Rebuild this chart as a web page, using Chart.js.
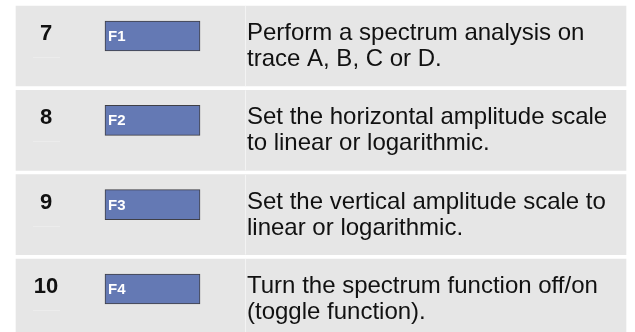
<!DOCTYPE html>
<html>
<head>
<meta charset="utf-8">
<script src="https://cdn.jsdelivr.net/npm/chart.js@4.4.1/dist/chart.umd.min.js"></script>
<style>
  html, body { margin: 0; padding: 0; background: #fff; overflow: hidden; }
  #wrap { width: 635px; height: 332px; }
</style>
</head>
<body>
<div id="wrap"><canvas id="my-chart" width="635" height="332"></canvas></div>
<script>
// table content
var steps = ['7', '8', '9', '10'];
var keys = ['F1', 'F2', 'F3', 'F4'];
var lines1 = [
  'Perform a spectrum analysis on',
  'Set the horizontal amplitude scale',
  'Set the vertical amplitude scale to',
  'Turn the spectrum function off/on'
];
var lines2 = [
  'trace A, B, C or D.',
  'to linear or logarithmic.',
  'linear or logarithmic.',
  '(toggle function).'
];

// layout (pixels)
var ROW_PITCH = 84.33;
var FIRST_CENTER = 46;
var ROW_X = [16, 626];
var KEY_X = [105, 200];
var DIVIDER_X = 245.5;
var KEY_SHIFT = -10 / ROW_PITCH;
var FONT = '"Liberation Sans", Arial, sans-serif';

var rowData = [];
var keyData = [];
for (i in steps) {
  rowData.push({ x: ROW_X, y: Number(i) });
  keyData.push({ x: KEY_X, y: Number(i) + KEY_SHIFT });
}

var tableText = {
  id: 'tableText',
  afterDatasetsDraw: function (chart) {
    var c = chart.ctx;
    var ys = chart.scales.y;
    var keyMeta = chart.getDatasetMeta(1);
    c.save();
    for (var i = 0; i < steps.length; i++) {
      var y = ys.getPixelForValue(i);
      // column divider
      c.strokeStyle = '#f3f3f3';
      c.lineWidth = 1;
      c.beginPath();
      c.moveTo(DIVIDER_X, y - 40);
      c.lineTo(DIVIDER_X, y + 40);
      c.stroke();
      // faint rule under the step number
      c.strokeStyle = '#ececec';
      c.beginPath();
      c.moveTo(33, Math.round(y + 11) + 0.5);
      c.lineTo(60, Math.round(y + 11) + 0.5);
      c.stroke();
      // step number
      c.fillStyle = '#111';
      c.textBaseline = 'alphabetic';
      c.textAlign = 'center';
      c.font = 'bold 22px ' + FONT;
      c.fillText(steps[i], 46, y - 6);
      // description
      c.textAlign = 'left';
      c.font = '24px ' + FONT;
      c.fillText(lines1[i], 247, y - 6);
      c.fillText(lines2[i], 247, y + 20);
      // key label
      var bar = keyMeta.data[i];
      c.fillStyle = '#fff';
      c.font = 'bold 15px ' + FONT;
      c.textBaseline = 'middle';
      c.fillText(keys[i], Math.min(bar.x, bar.base) + 3, bar.y + 1);
    }
    c.restore();
  }
};

var ctx = document.getElementById('my-chart');
var myChart = new Chart(ctx, {
  type: 'bar',
  data: {
    datasets: [{
      data: rowData,
      backgroundColor: '#e6e6e6',
      borderWidth: 0,
      barThickness: 80,
      grouped: false,
      order: 2
    }, {
      data: keyData,
      backgroundColor: '#6479b4',
      borderColor: '#3f3f46',
      borderWidth: 1,
      borderSkipped: false,
      barThickness: 30,
      grouped: false,
      order: 1
    }]
  },
  options: {
    indexAxis: 'y',
    responsive: false,
    animation: false,
    layout: { padding: 0 },
    scales: {
      x: { type: 'linear', min: 0, max: 635, display: false, offset: false },
      y: {
        type: 'linear',
        reverse: true,
        offset: false,
        min: -FIRST_CENTER / ROW_PITCH,
        max: (332 - FIRST_CENTER) / ROW_PITCH,
        display: false
      }
    },
    plugins: {
      legend: { display: false },
      tooltip: { enabled: false }
    }
  },
  plugins: [tableText]
});
</script>
</body>
</html>
